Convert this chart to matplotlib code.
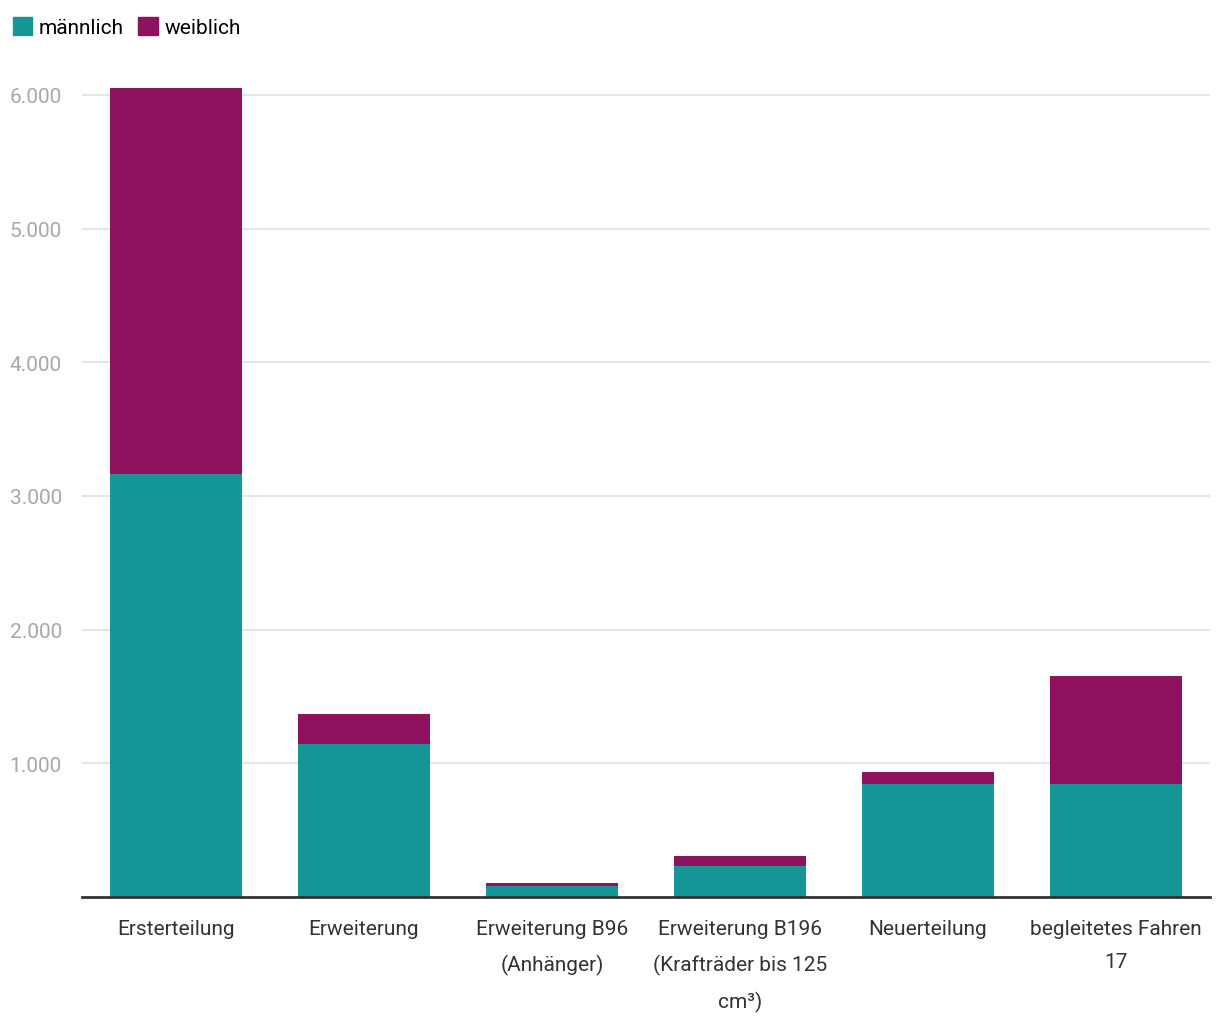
import numpy as np
import matplotlib.pyplot as plt
from matplotlib.patches import Patch

# Fahrerlaubnisse nach Art und Geschlecht
categories = [
    "Ersterteilung",
    "Erweiterung",
    "Erweiterung B96\n(Anhänger)",
    "Erweiterung B196\n(Krafträder bis 125\ncm³)",
    "Neuerteilung",
    "begleitetes Fahren\n17",
]
maennlich = [3165, 1145, 82, 232, 845, 845]
weiblich = [2887, 224, 23, 75, 90, 808]

yticks = [1000, 2000, 3000, 4000, 5000, 6000]
ytick_labels = ["1.000", "2.000", "3.000", "4.000", "5.000", "6.000"]

teal = "#169797"
purple = "#8f125e"

plt.rcParams['font.family'] = ['Roboto', 'DejaVu Sans']

fig = plt.figure(figsize=(12.2, 10.2), dpi=100)
ax = fig.add_axes([0.0672, 0.1196, 0.9246, 0.7994])

x = np.arange(len(categories))
ax.bar(x, maennlich, width=0.70, color=teal, zorder=2)
ax.bar(x, weiblich, width=0.70, bottom=maennlich, color=purple, zorder=2)

ax.set_xlim(-0.5, len(categories) - 0.5)
ax.set_ylim(0, 6100)

ax.set_yticks(yticks)
ax.set_yticklabels(ytick_labels)
ax.grid(axis='y', color='#e3e3e3', linewidth=1.3, zorder=0)
# pad is in points: 52 pt ~ 72 px -> labels start near x = 10 px
ax.tick_params(axis='y', length=0, labelsize=15, labelcolor='#a8a8a8', pad=52)
for lbl in ax.get_yticklabels():
    lbl.set_horizontalalignment('left')

ax.set_xticks(x)
ax.set_xticklabels(categories, linespacing=1.95, va='top')
ax.tick_params(axis='x', length=0, labelsize=15, labelcolor='#333333', pad=16)

for side in ['top', 'right', 'left']:
    ax.spines[side].set_visible(False)
ax.spines['bottom'].set_color('#333333')
ax.spines['bottom'].set_linewidth(2)
ax.spines['bottom'].set_zorder(3)

handles = [Patch(color=teal, label='männlich'), Patch(color=purple, label='weiblich')]
fig.legend(handles=handles, loc='upper left', bbox_to_anchor=(0.0, 0.995), ncol=2,
           frameon=False, fontsize=15, handlelength=0.95, handleheight=0.95,
           handletextpad=0.3, columnspacing=0.7, borderaxespad=0.2)

fig.savefig('out.png', dpi=100)
